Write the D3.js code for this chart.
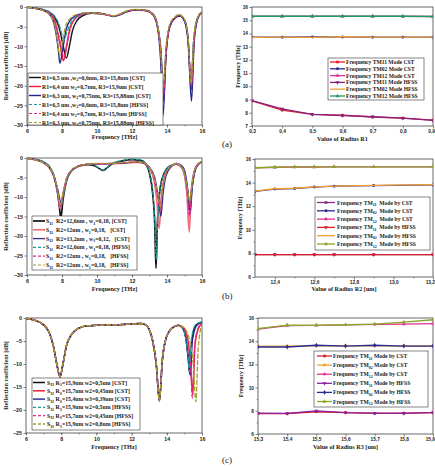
<!DOCTYPE html>
<html>
<head>
<meta charset="utf-8">
<script src="https://cdn.jsdelivr.net/npm/d3@7"></script>
<style>
  body { margin: 0; background: #fff; }
  svg { display: block; font-family: "Liberation Serif", "DejaVu Serif", serif; font-weight: bold; }
  text { white-space: pre; }
</style>
</head>
<body>
<script>
// ---------- data: reflection coefficient curves [THz, dB] ----------
const freqTicks = [6, 8, 10, 12, 14, 16];

// (a) varying R1
const aCst65 = [[6,-0.1],[6.5,-0.3],[7,-0.8],[7.3,-1.4],[7.6,-2.8],[7.85,-5.5],[8.05,-9.5],[8.25,-13.0],[8.42,-10],[8.6,-6],[8.85,-3.5],[9.2,-2.2],[9.7,-1.6],[10.2,-1.7],[10.6,-2.0],[10.95,-2.4],[11.3,-2.0],[11.7,-1.2],[12.2,-0.8],[12.8,-0.9],[13.2,-1.8],[13.45,-4.5],[13.65,-11],[13.8,-22],[13.95,-11],[14.15,-5],[14.45,-2.8],[14.72,-2.3],[15.0,-3.4],[15.2,-8],[15.38,-20],[15.52,-9],[15.72,-3.2],[16,-1.3]];
const aCst64 = [[6,-0.1],[6.5,-0.35],[7,-0.9],[7.3,-1.6],[7.55,-3.2],[7.75,-6.5],[7.93,-10.5],[8.08,-13.7],[8.25,-10],[8.45,-5.5],[8.7,-3.2],[9.1,-2.0],[9.6,-1.5],[10.1,-1.6],[10.6,-2.0],[10.95,-2.3],[11.3,-1.9],[11.7,-1.1],[12.2,-0.7],[12.8,-0.9],[13.2,-1.9],[13.45,-4.8],[13.65,-12],[13.8,-24],[13.95,-12],[14.15,-5.2],[14.45,-2.8],[14.7,-2.1],[15.0,-3.3],[15.2,-8],[15.4,-21],[15.55,-8.5],[15.75,-3],[16,-1.2]];
const aCst63 = [[6,-0.1],[6.5,-0.4],[7,-1.0],[7.3,-1.9],[7.5,-3.6],[7.65,-6.5],[7.78,-10.5],[7.88,-14.3],[8.05,-10.5],[8.25,-5.5],[8.5,-3.2],[8.9,-2.0],[9.4,-1.5],[10.0,-1.5],[10.5,-1.9],[10.95,-2.3],[11.3,-1.9],[11.7,-1.1],[12.2,-0.7],[12.8,-0.9],[13.2,-2.0],[13.45,-5],[13.63,-13],[13.78,-27.5],[13.93,-13],[14.12,-5.5],[14.45,-2.8],[14.7,-2.2],[14.98,-3.4],[15.2,-8.5],[15.4,-24],[15.55,-9],[15.75,-3],[16,-1.3]];
const aHfss65 = [[6,-0.1],[6.5,-0.3],[7,-0.7],[7.3,-1.3],[7.6,-2.4],[7.8,-4],[7.97,-6.5],[8.12,-8.3],[8.28,-6.5],[8.5,-4],[8.8,-2.6],[9.2,-1.8],[9.7,-1.5],[10.2,-1.6],[10.6,-2.0],[10.95,-2.3],[11.3,-1.9],[11.7,-1.1],[12.2,-0.7],[12.8,-0.9],[13.2,-1.8],[13.45,-4.5],[13.65,-11],[13.8,-21],[13.95,-11],[14.15,-4.8],[14.45,-2.6],[14.72,-2.1],[15.0,-3.2],[15.2,-7.5],[15.37,-19],[15.52,-8.5],[15.72,-3],[16,-1.2]];
const aHfss64 = [[6,-0.1],[6.5,-0.35],[7,-0.9],[7.3,-1.6],[7.55,-3.0],[7.75,-6],[7.95,-10],[8.12,-13.2],[8.3,-9.5],[8.5,-5.2],[8.75,-3.0],[9.1,-2.0],[9.6,-1.5],[10.1,-1.6],[10.6,-2.0],[10.95,-2.3],[11.3,-1.9],[11.7,-1.1],[12.2,-0.7],[12.8,-0.9],[13.2,-1.9],[13.45,-4.6],[13.65,-11.5],[13.8,-22.5],[13.95,-11.5],[14.15,-5],[14.45,-2.7],[14.7,-2.0],[15.0,-3.2],[15.2,-7.8],[15.4,-20],[15.55,-8.5],[15.75,-3],[16,-1.2]];
const aHfss63 = [[6,-0.1],[6.5,-0.4],[7,-1.1],[7.3,-2.0],[7.5,-3.5],[7.65,-6],[7.78,-10],[7.86,-12.5],[8.0,-9.5],[8.2,-5],[8.45,-3.0],[8.85,-1.9],[9.4,-1.5],[10.0,-1.5],[10.5,-1.9],[10.95,-2.2],[11.3,-1.8],[11.7,-1.0],[12.2,-0.6],[12.8,-0.8],[13.2,-1.8],[13.45,-4.5],[13.63,-11],[13.78,-21],[13.93,-11],[14.12,-4.8],[14.45,-2.5],[14.68,-1.9],[14.98,-3.1],[15.2,-7.5],[15.38,-19.5],[15.52,-8.5],[15.72,-3],[16,-1.2]];

// (b) varying R2
const bCst126 = [[6,-0.1],[6.5,-0.4],[7,-1.2],[7.3,-2.4],[7.55,-4.8],[7.75,-9],[7.85,-12.5],[7.93,-15.5],[8.05,-11],[8.25,-6],[8.5,-3.5],[8.9,-2.2],[9.4,-1.7],[9.8,-1.9],[10.1,-2.6],[10.35,-3.2],[10.6,-2.4],[10.9,-1.4],[11.4,-0.8],[12.0,-0.4],[12.5,-0.6],[12.8,-1.6],[13.0,-4],[13.18,-9],[13.3,-17],[13.37,-28.3],[13.45,-17],[13.6,-8],[13.85,-3.8],[14.2,-2.0],[14.55,-1.6],[14.85,-2.4],[15.05,-5],[15.2,-9.5],[15.3,-13],[15.42,-8],[15.6,-3.2],[15.8,-1.6],[16,-1.0]];
const bCst12 = [[6,-0.1],[6.5,-0.5],[7,-1.4],[7.3,-2.7],[7.55,-5],[7.75,-8.5],[7.9,-13],[8.05,-9.5],[8.25,-5.5],[8.5,-3.4],[8.9,-2.2],[9.4,-1.7],[10.0,-1.5],[10.6,-1.5],[11.2,-1.4],[11.8,-1.2],[12.3,-1.1],[12.7,-1.4],[13.0,-2.6],[13.25,-5.5],[13.42,-11],[13.55,-18],[13.68,-10],[13.85,-5],[14.15,-2.4],[14.5,-1.6],[14.8,-2.2],[15.0,-4.5],[15.15,-10],[15.27,-19],[15.38,-9],[15.55,-3.5],[15.8,-1.5],[16,-1.0]];
const bCst132 = [[6,-0.1],[6.5,-0.45],[7,-1.3],[7.3,-2.6],[7.55,-4.8],[7.78,-8.5],[7.95,-11.5],[8.1,-8.5],[8.3,-5],[8.55,-3.2],[8.95,-2.1],[9.5,-1.6],[10.0,-1.5],[10.6,-1.5],[11.2,-1.4],[11.8,-1.2],[12.3,-1.0],[12.7,-1.4],[13.0,-2.4],[13.3,-5],[13.5,-10],[13.65,-15],[13.78,-9],[13.95,-4.5],[14.25,-2.2],[14.55,-1.4],[14.85,-2.0],[15.05,-4],[15.2,-8.5],[15.33,-14],[15.45,-7],[15.6,-3],[15.8,-1.4],[16,-0.9]];
const bHfss126 = [[6,-0.1],[6.5,-0.4],[7,-1.1],[7.3,-2.2],[7.55,-4.5],[7.75,-8.5],[7.93,-12.5],[8.1,-9],[8.3,-5.2],[8.55,-3.2],[8.9,-2.1],[9.4,-1.6],[9.8,-1.8],[10.1,-2.5],[10.35,-3.1],[10.6,-2.3],[10.9,-1.3],[11.4,-0.7],[12.0,-0.3],[12.5,-0.5],[12.8,-1.5],[13.0,-3.8],[13.18,-8.5],[13.3,-16],[13.39,-26],[13.47,-16],[13.62,-7.5],[13.87,-3.6],[14.2,-1.9],[14.55,-1.5],[14.85,-2.3],[15.05,-4.8],[15.2,-9],[15.31,-12],[15.43,-7.5],[15.6,-3],[15.8,-1.5],[16,-0.9]];
const bHfss12a = [[6,-0.1],[6.5,-0.5],[7,-1.4],[7.3,-2.6],[7.55,-4.9],[7.75,-8.3],[7.9,-12.5],[8.05,-9.2],[8.25,-5.3],[8.5,-3.3],[8.9,-2.1],[9.4,-1.6],[10.0,-1.5],[10.6,-1.4],[11.2,-1.3],[11.8,-1.1],[12.3,-1.0],[12.7,-1.3],[13.0,-2.5],[13.25,-5.2],[13.45,-9.5],[13.6,-13],[13.72,-8.5],[13.9,-4.5],[14.2,-2.2],[14.5,-1.5],[14.8,-2.1],[15.0,-4.2],[15.15,-9],[15.28,-15],[15.4,-8],[15.57,-3.2],[15.8,-1.4],[16,-0.9]];
const bHfss12b = [[6,-0.1],[6.5,-0.5],[7,-1.4],[7.3,-2.6],[7.55,-4.8],[7.75,-8],[7.91,-12],[8.06,-9],[8.26,-5.2],[8.5,-3.3],[8.9,-2.1],[9.4,-1.6],[10.0,-1.4],[10.6,-1.4],[11.2,-1.3],[11.8,-1.1],[12.3,-1.0],[12.7,-1.3],[13.0,-2.4],[13.27,-5],[13.47,-9],[13.62,-12.5],[13.74,-8],[13.92,-4.3],[14.2,-2.1],[14.5,-1.5],[14.8,-2.0],[15.0,-4],[15.17,-8],[15.3,-11],[15.42,-7],[15.58,-3],[15.8,-1.4],[16,-0.9]];

// (c) varying R3: curves coincide up to ~14.6 THz, then split
const cHead = [[6,-0.1],[6.5,-0.5],[7,-1.5],[7.3,-3],[7.55,-6],[7.75,-10],[7.93,-12.8],[8.1,-10],[8.3,-6],[8.6,-3.5],[9,-2.2],[9.5,-1.7],[10,-1.6],[10.5,-1.5],[11,-1.5],[11.5,-1.4],[12,-1.3],[12.5,-1.2],[12.8,-1.5],[13.0,-2.5],[13.2,-5],[13.4,-10],[13.58,-18],[13.75,-9],[13.95,-4.5],[14.3,-2.2],[14.65,-1.6]];
const cCst159Tail = [[14.9,-2.2],[15.1,-4.8],[15.22,-9],[15.3,-12],[15.42,-5],[15.65,-1.6],[16,-0.9]];
const cCst157Tail = [[14.95,-2.1],[15.2,-4.8],[15.35,-10],[15.47,-16.5],[15.6,-6],[15.8,-2.2],[16,-1.2]];
const cCst154Tail = [[14.9,-2.2],[15.1,-4.8],[15.25,-9.5],[15.33,-12.5],[15.45,-5],[15.7,-1.6],[16,-0.9]];
const cHfss159Tail = [[14.9,-2.3],[15.1,-5],[15.21,-8.5],[15.29,-11.7],[15.4,-4.5],[15.65,-1.4],[16,-0.8]];
const cHfss157Tail = [[14.95,-2.2],[15.2,-5],[15.35,-10.5],[15.45,-17.4],[15.58,-6],[15.8,-2.0],[16,-1.2]];
const cHfss159bTail = [[15.0,-2.2],[15.3,-5],[15.5,-10],[15.65,-18.2],[15.78,-7],[15.9,-2.8],[16,-1.5]];

// ---------- data: mode frequency vs radius ----------
const r1Values = [0.3, 0.4, 0.5, 0.6, 0.7, 0.8, 0.9];
const r1Tm11Cst  = [8.9, 8.2, 7.88, 7.82, 7.68, 7.6, 7.45];
const r1Tm02Cst  = [13.72, 13.72, 13.73, 13.74, 13.72, 13.72, 13.72];
const r1Tm12Cst  = [15.3, 15.3, 15.3, 15.3, 15.3, 15.3, 15.28];
const r1Tm11Hfss = [8.92, 8.3, 7.88, 7.78, 7.7, 7.6, 7.42];
const r1Tm02Hfss = [13.7, 13.72, 13.7, 13.76, 13.72, 13.72, 13.72];
const r1Tm12Hfss = [15.3, 15.3, 15.3, 15.3, 15.3, 15.3, 15.28];

const r2Values = [12.3, 12.4, 12.5, 12.6, 12.7, 12.9, 13.2];
const r2Tm11Cst  = [7.9, 7.9, 7.9, 7.9, 7.9, 7.9, 7.9];
const r2Tm02Cst  = [13.25, 13.45, 13.5, 13.62, 13.7, 13.75, 13.8];
const r2Tm12Cst  = [15.25, 15.3, 15.32, 15.32, 15.33, 15.33, 15.33];
const r2Tm11Hfss = [7.9, 7.9, 7.9, 7.9, 7.9, 7.9, 7.9];
const r2Tm02Hfss = [13.28, 13.48, 13.52, 13.64, 13.7, 13.76, 13.83];
const r2Tm12Hfss = [15.26, 15.3, 15.33, 15.33, 15.33, 15.33, 15.33];

const r3Values = [15.3, 15.4, 15.5, 15.6, 15.7, 15.8, 15.9];
const r3Tm11Cst  = [7.75, 7.75, 7.92, 7.85, 7.78, 7.8, 7.85];
const r3Tm02Cst  = [13.58, 13.58, 13.6, 13.6, 13.6, 13.6, 13.6];
const r3Tm12Cst  = [15.05, 15.35, 15.37, 15.4, 15.45, 15.47, 15.52];
const r3Tm11Hfss = [7.8, 7.78, 8.0, 7.85, 7.8, 7.78, 7.85];
const r3Tm02Hfss = [13.5, 13.5, 13.65, 13.58, 13.65, 13.58, 13.58];
const r3Tm12Hfss = [15.08, 15.38, 15.37, 15.42, 15.47, 15.65, 15.85];

// ---------- legend texts ----------
const aLegend = [
  "R1=6,5 um ,w_{2}=0,6nm, R3=15,8um [CST]",
  "R1=6,4 um w_{2}=0,7nm, R3=15,9um [CST]",
  "R1=6,3 um, w_{2}=0,75nm, R3=15,88um [CST]",
  "R1=6,5 um ,w_{2}=0,6nm, R3=15,8um [HFSS]",
  "R1=6,4 um w_{2}=0,7nm, R3=15,9um [HFSS]",
  "R1=6,3 um, w_{2}=0,75nm, R3=15,88um [HFSS]"
];
const bLegend = [
  "S_{11}  R2=12,6nm , w_{1}=0,18, [CST]",
  "S_{11}  R2=12um , w_{1}=0,18,   [CST]",
  "S_{11}  R2=13,2um , w_{1}=0,12,   [CST]",
  "S_{11}  R2=12,6um , w_{1}=0,18, [HFSS]",
  "S_{11}  R2=12um , w_{1}=0,18,   [HFSS]",
  "S_{11}  R2=12um , w_{1}=0,18,   [HFSS]"
];
const cLegend = [
  "S_{11} R_{3}=15,9um w2=0,5um [CST]",
  "S_{11} R_{3}=15,7um w2=0,45um [CST]",
  "S_{11} R_{3}=15,4um w3=0,39um [CST]",
  "S_{11} R_{3}=15,9um w2=0,5um [HFSS]",
  "S_{11} R_{3}=15,7um w2=0,45um [HFSS]",
  "S_{11} R_{3}=15,9um w2=0,8um [HFSS]"
];
const r1Legend = [
  "Frequency TM11 Mode CST", "Frequency TM02 Mode CST", "Frequency TM12 Mode CST",
  "Frequency TM11 Mode HFSS", "Frequency TM02 Mode HFSS", "Frequency TM12 Mode HFSS"
];
const r2Legend = [
  "Frequency TM_{11}  Mode by CST", "Frequency TM_{02}  Mode by CST", "Frequency TM_{12}  Mode by CST",
  "Frequency TM_{11}  Mode by HFSS", "Frequency TM_{02}  Mode by HFSS", "Frequency TM_{12}  Mode by HFSS"
];
const r3Legend = [
  "Frequency TM_{11} Mode by CST", "Frequency TM_{02} Mode by CST", "Frequency TM_{12} Mode by CST",
  "Frequency TM_{11} Mode by HFSS", "Frequency TM_{02} Mode by HFSS", "Frequency TM_{12} Mode by HFSS"
];

// ---------- drawing ----------
const svg = d3.select("body").append("svg").attr("width", 435).attr("height", 467);
svg.append("rect").attr("width", 435).attr("height", 467).attr("fill", "#fff");

const commaFmt = d => d3.format(".1f")(d).replace(".", ",");
let clipId = 0;

// text with _{sub} markup
function richText(t, str, size) {
  let shift = 0;
  str.split(/(_\{[^}]*\})/).filter(s => s).forEach(s => {
    const sub = s.startsWith("_{");
    const d = sub ? size * 0.3 : 0;
    t.append("tspan").attr("dy", d - shift)
      .attr("font-size", sub ? size * 0.72 : size)
      .text(sub ? s.slice(2, -1) : s);
    shift = d;
  });
}

function drawFrame(p) {
  const x = d3.scaleLinear().domain(p.xDomain).range([p.left, p.right]);
  const y = d3.scaleLinear().domain(p.yDomain).range([p.bottom, p.top]);
  const g = svg.append("g");
  const fs = p.tickSize || 5.3;

  // minor ticks
  g.append("g").attr("transform", `translate(0,${p.bottom})`)
    .call(d3.axisBottom(x).tickValues(p.xMinor).tickSize(1.3).tickFormat(""))
    .call(a => a.select(".domain").remove());
  g.append("g").attr("transform", `translate(${p.left},0)`)
    .call(d3.axisLeft(y).tickValues(p.yMinor).tickSize(1.3).tickFormat(""))
    .call(a => a.select(".domain").remove());

  // major ticks and labels
  g.append("g").attr("transform", `translate(0,${p.bottom})`)
    .call(d3.axisBottom(x).tickValues(p.xTicks).tickSize(2.5).tickPadding(1.5).tickFormat(p.xFormat))
    .call(a => a.select(".domain").remove())
    .call(a => a.selectAll("text").attr("font-size", fs).attr("fill", "#222").attr("font-family", null))
    // last label sits on the image edge: anchor it to the end so it stays visible
    .call(a => { if (p.right > 430) a.selectAll(".tick:last-of-type text").attr("text-anchor", "end").attr("dx", 1.5); });
  g.append("g").attr("transform", `translate(${p.left},0)`)
    .call(d3.axisLeft(y).tickValues(p.yTicks).tickSize(2.5).tickPadding(1.5).tickFormat(d3.format("d")))
    .call(a => a.select(".domain").remove())
    .call(a => a.selectAll("text").attr("font-size", fs).attr("fill", "#222").attr("font-family", null));
  g.selectAll(".tick line").attr("stroke", "#333").attr("stroke-width", 0.6);

  g.append("rect")
    .attr("x", p.left).attr("y", p.top)
    .attr("width", p.right - p.left).attr("height", p.bottom - p.top)
    .attr("fill", "none").attr("stroke", "#444").attr("stroke-width", 0.8);

  // axis titles
  g.append("text").attr("x", (p.left + p.right) / 2).attr("y", p.xTitleY)
    .attr("text-anchor", "middle").attr("font-size", 6.2).attr("fill", "#222").text(p.xTitle);
  g.append("text")
    .attr("transform", `translate(${p.yTitleX},${(p.top + p.bottom) / 2}) rotate(-90)`)
    .attr("text-anchor", "middle").attr("font-size", p.yTitleSize || 6.2).attr("fill", "#222").text(p.yTitle);

  const id = "clip" + (clipId++);
  svg.append("clipPath").attr("id", id).append("rect")
    .attr("x", p.left).attr("y", p.top - 1).attr("width", p.right - p.left).attr("height", p.bottom - p.top + 2);
  const plot = svg.append("g").attr("clip-path", `url(#${id})`);
  return { x, y, plot };
}

function drawLegend(lg, items, markers) {
  const g = svg.append("g");
  g.append("rect").attr("x", lg.x).attr("y", lg.y).attr("width", lg.w).attr("height", lg.h)
    .attr("fill", "#fff").attr("stroke", "#333").attr("stroke-width", 0.6);
  items.forEach((it, i) => {
    const cy = lg.row0 + i * lg.step;
    g.append("line").attr("x1", lg.lx0).attr("x2", lg.lx1).attr("y1", cy).attr("y2", cy)
      .attr("stroke", it.color).attr("stroke-width", it.width)
      .attr("stroke-dasharray", it.dash ? "3,2" : null);
    if (markers) {
      g.append("path").attr("d", d3.symbol(it.symbol, 7)())
        .attr("transform", `translate(${(lg.lx0 + lg.lx1) / 2},${cy}) rotate(${it.rot || 0})`)
        .attr("fill", it.color);
    }
    const t = g.append("text").attr("x", lg.tx).attr("y", cy + 2).attr("font-size", lg.size).attr("fill", "#222");
    richText(t, it.label, lg.size);
  });
}

function s11Panel(p, curves, legend) {
  const { x, y, plot } = drawFrame(Object.assign({
    xDomain: [6, 16], xTicks: freqTicks, xMinor: d3.range(6, 17, 1), xFormat: d3.format("d"),
    xTitle: "Frequency [THz]", yTitle: "Reflection coefficient [dB]", yTitleX: 8
  }, p));
  const line = d3.line().x(d => x(d[0])).y(d => y(d[1])).curve(d3.curveMonotoneX);
  plot.selectAll(null).data(curves).join("path")
    .attr("d", c => line(c.data))
    .attr("fill", "none")
    .attr("stroke", c => c.color)
    .attr("stroke-width", c => c.width)
    .attr("stroke-dasharray", c => c.dash || null);
  drawLegend(legend, curves, false);
}

function freqPanel(p, xs, series, legend) {
  const { x, y, plot } = drawFrame(Object.assign({
    xFormat: commaFmt, yTitle: "Frequency [THz]", tickSize: 4.8, yTitleSize: 5.8
  }, p));
  const line = d3.line().x((d, i) => x(xs[i])).y(d => y(d));
  series.forEach(s => {
    plot.append("path").attr("d", line(s.data)).attr("fill", "none")
      .attr("stroke", s.color).attr("stroke-width", s.width);
    plot.selectAll(null).data(s.data).join("path")
      .attr("d", d3.symbol(s.symbol, 7)())
      .attr("transform", (d, i) => `translate(${x(xs[i])},${y(d)}) rotate(${s.rot || 0})`)
      .attr("fill", s.color);
  });
  drawLegend(legend, series, true);
}

const BLACK = "#111", RED = "#e8202f", NAVY = "#22248c", TEAL = "#1c9c98", MAGENTA = "#e6288e", OLIVE = "#a3a12a";
const DASH = "5,1.5";

// ---- (a) left
s11Panel(
  { left: 27, right: 202, top: 7, bottom: 125, yDomain: [-30, 0], yTicks: d3.range(-30, 1, 5), yMinor: [],
    xTitleY: 139 },
  [
    { data: aCst65, color: BLACK, width: 1.4, label: aLegend[0] },
    { data: aCst64, color: RED, width: 1.4, label: aLegend[1] },
    { data: aCst63, color: NAVY, width: 1.4, label: aLegend[2] },
    { data: aHfss65, color: TEAL, width: 1.2, dash: DASH, label: aLegend[3] },
    { data: aHfss64, color: MAGENTA, width: 1.2, dash: DASH, label: aLegend[4] },
    { data: aHfss63, color: OLIVE, width: 1.2, dash: DASH, label: aLegend[5] }
  ],
  { x: 28, y: 73, w: 135, h: 52, row0: 77.5, step: 9, lx0: 29, lx1: 41, tx: 42, size: 5.8 }
);

// ---- (b) left
s11Panel(
  { left: 27, right: 202, top: 158, bottom: 275, yDomain: [-30, 0], yTicks: d3.range(-30, 1, 5), yMinor: [],
    xTitleY: 291 },
  [
    { data: bCst126, color: BLACK, width: 1.7, label: bLegend[0] },
    { data: bCst12, color: "#f0707c", width: 1.7, label: bLegend[1] },
    { data: bCst132, color: "#3a2c8c", width: 1.3, label: bLegend[2] },
    { data: bHfss126, color: TEAL, width: 1.2, dash: DASH, label: bLegend[3] },
    { data: bHfss12a, color: MAGENTA, width: 1.2, dash: DASH, label: bLegend[4] },
    { data: bHfss12b, color: OLIVE, width: 1.2, dash: DASH, label: bLegend[5] }
  ],
  { x: 32, y: 216, w: 105, h: 54, row0: 221, step: 8.8, lx0: 33, lx1: 45, tx: 46, size: 5.8 }
);

// ---- (c) left
s11Panel(
  { left: 26, right: 202, top: 318, bottom: 433, yDomain: [-25, 0], yTicks: d3.range(-25, 1, 5), yMinor: [],
    xTitleY: 449 },
  [
    { data: cHead.concat(cCst159Tail), color: BLACK, width: 1.5, label: cLegend[0] },
    { data: cHead.concat(cCst157Tail), color: RED, width: 1.5, label: cLegend[1] },
    { data: cHead.concat(cCst154Tail), color: NAVY, width: 1.4, label: cLegend[2] },
    { data: cHead.concat(cHfss159Tail), color: TEAL, width: 1.2, dash: DASH, label: cLegend[3] },
    { data: cHead.concat(cHfss157Tail), color: MAGENTA, width: 1.2, dash: DASH, label: cLegend[4] },
    { data: cHead.concat(cHfss159bTail), color: OLIVE, width: 1.3, dash: DASH, label: cLegend[5] }
  ],
  { x: 32, y: 378, w: 108, h: 52, row0: 382.5, step: 8.3, lx0: 33, lx1: 45, tx: 47, size: 5.8 }
);

// ---- (a) right
freqPanel(
  { left: 252, right: 433, top: 7, bottom: 126, xDomain: [0.3, 0.9], xTicks: r1Values, xMinor: [],
    yDomain: [7, 16], yTicks: d3.range(7, 17, 1), yMinor: [],
    xTitle: "Value of Radius R1", xTitleY: 141, yTitleX: 240 },
  r1Values,
  [
    { data: r1Tm11Cst, color: "#d8202a", width: 1.3, symbol: d3.symbolSquare, label: r1Legend[0] },
    { data: r1Tm02Cst, color: "#2a2a90", width: 1.3, symbol: d3.symbolCircle, label: r1Legend[1] },
    { data: r1Tm12Cst, color: "#e03090", width: 1.3, symbol: d3.symbolTriangle, label: r1Legend[2] },
    { data: r1Tm11Hfss, color: "#8a1f7e", width: 1.3, symbol: d3.symbolTriangle, rot: 180, label: r1Legend[3] },
    { data: r1Tm02Hfss, color: "#f2a030", width: 1.3, symbol: d3.symbolTimes, label: r1Legend[4] },
    { data: r1Tm12Hfss, color: "#1f9a62", width: 1.3, symbol: d3.symbolTriangle, label: r1Legend[5] }
  ],
  { x: 328, y: 58, w: 96, h: 42, row0: 62, step: 6.8, lx0: 330, lx1: 345, tx: 346, size: 5.6 }
);

// ---- (b) right
freqPanel(
  { left: 255, right: 433, top: 159, bottom: 277, xDomain: [12.3, 13.2], xTicks: [12.4, 12.6, 12.8, 13.0, 13.2],
    xMinor: [12.5, 12.7, 12.9, 13.1], yDomain: [6, 16], yTicks: [6, 8, 10, 12, 14, 16], yMinor: [7, 9, 11, 13, 15],
    xTitle: "Value of Radius R2 [um]", xTitleY: 291, yTitleX: 242 },
  r2Values,
  [
    { data: r2Tm11Cst, color: "#8a2c8a", width: 1.3, symbol: d3.symbolSquare, label: r2Legend[0] },
    { data: r2Tm02Cst, color: "#2a2a90", width: 1.3, symbol: d3.symbolCircle, label: r2Legend[1] },
    { data: r2Tm12Cst, color: "#e03090", width: 1.3, symbol: d3.symbolTriangle, label: r2Legend[2] },
    { data: r2Tm11Hfss, color: "#d8202a", width: 1.3, symbol: d3.symbolTriangle, rot: 180, label: r2Legend[3] },
    { data: r2Tm02Hfss, color: "#f2a030", width: 1.3, symbol: d3.symbolTimes, label: r2Legend[4] },
    { data: r2Tm12Hfss, color: "#8aa82a", width: 1.3, symbol: d3.symbolTriangle, label: r2Legend[5] }
  ],
  { x: 315, y: 197, w: 115, h: 53, row0: 202.5, step: 8.3, lx0: 317, lx1: 335, tx: 337, size: 5.6 }
);

// ---- (c) right
freqPanel(
  { left: 258, right: 433, top: 318, bottom: 434, xDomain: [15.3, 15.9], xTicks: r3Values, xMinor: [],
    yDomain: [6, 16], yTicks: [6, 8, 10, 12, 14, 16], yMinor: [7, 9, 11, 13, 15],
    xTitle: "Value of Radius R3 [um]", xTitleY: 449, yTitleX: 243 },
  r3Values,
  [
    { data: r3Tm11Cst, color: "#d8202a", width: 1.3, symbol: d3.symbolSquare, label: r3Legend[0] },
    { data: r3Tm02Cst, color: "#f2a030", width: 1.3, symbol: d3.symbolCircle, label: r3Legend[1] },
    { data: r3Tm12Cst, color: "#e03090", width: 1.3, symbol: d3.symbolTriangle, label: r3Legend[2] },
    { data: r3Tm11Hfss, color: "#8a1f9e", width: 1.3, symbol: d3.symbolTriangle, rot: 180, label: r3Legend[3] },
    { data: r3Tm02Hfss, color: "#2a2a90", width: 1.3, symbol: d3.symbolDiamond, label: r3Legend[4] },
    { data: r3Tm12Hfss, color: "#8aa82a", width: 1.3, symbol: d3.symbolTriangle, label: r3Legend[5] }
  ],
  { x: 314, y: 351, w: 114, h: 56, row0: 356, step: 9.1, lx0: 317, lx1: 332, tx: 333, size: 5.6 }
);

// panel letters
[["(a)", 147], ["(b)", 299], ["(c)", 463]].forEach(([s, yy]) => {
  svg.append("text").attr("x", 222).attr("y", yy).attr("font-size", 9)
    .attr("font-weight", "normal").attr("fill", "#222").text(s);
});
</script>
</body>
</html>
